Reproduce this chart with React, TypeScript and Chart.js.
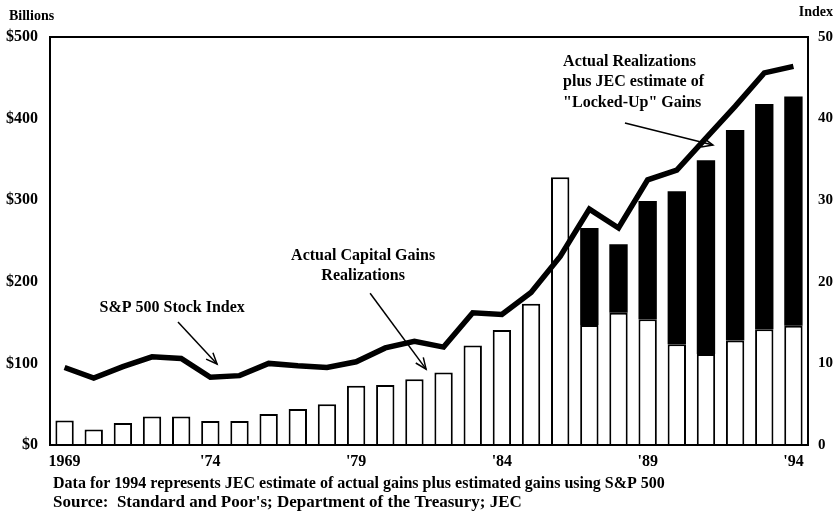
import React, { useEffect, useRef } from "react";
import { Chart, registerables } from "chart.js";

Chart.register(...registerables);

// ---- Data ----
const years = [
  "1969", "1970", "1971", "1972", "1973", "1974", "1975", "1976", "1977",
  "1978", "1979", "1980", "1981", "1982", "1983", "1984", "1985", "1986",
  "1987", "1988", "1989", "1990", "1991", "1992", "1993", "1994",
];
const shownYears = ["1969", "1974", "1979", "1984", "1989", "1994"];
const shownYearText = ["1969", "'74", "'79", "'84", "'89", "'94"];

// Actual capital gains realizations, $ billions (white bars)
const realizations = [
  30, 19, 27, 35, 35, 29.5, 29.5, 38, 44, 50, 72.5, 73.5, 80.5, 89, 122, 141,
  173, 328, 147, 162, 154, 123.5, 111.5, 128, 142, 146,
];
// JEC estimate of "locked-up" gains, $ billions (black bar tops)
const lockedUp = [
  null, null, null, null, null, null, null, null, null, null, null, null, null,
  null, null, null, null, null, 119, 84, 145, 187.5, 237.5, 258, 276, 281,
];
// S&P 500 stock index (right axis, index / 10)
const sp500 = [
  9.5, 8.2, 9.6, 10.8, 10.6, 8.3, 8.5, 10.0, 9.7, 9.5, 10.2, 11.9, 12.7, 12.0,
  16.2, 16.0, 18.7, 23.1, 28.9, 26.6, 32.5, 33.7, 37.6, 41.5, 45.6, 46.4,
];

const leftTicks = [0, 100, 200, 300, 400, 500];
const rightTicks = [0, 10, 20, 30, 40, 50];

const FONT = "'Liberation Serif', 'Times New Roman', serif";

// annotation texts anchored to data coordinates (category index, $ value)
const notes = [
  { lines: ["S&P 500 Stock Index"], x: 3.69, y: 168, align: "center" },
  { lines: ["Actual Capital Gains", "Realizations"], x: 10.24, y: 232, align: "center" },
  {
    lines: ["Actual Realizations", "plus JEC estimate of", '"Locked-Up" Gains'],
    x: 17.1, y: 470, align: "left",
  },
];
const arrows = [
  { x1: 3.89, y1: 150.7, x2: 5.23, y2: 99.3 },
  { x1: 10.48, y1: 186, x2: 12.4, y2: 93 },
  { x1: 19.22, y1: 394.6, x2: 22.24, y2: 367.6 },
];
const footnotes = [
  { text: "Data for 1994 represents JEC estimate of actual gains plus estimated gains using S&P 500", size: 16 },
  { text: "Source:  Standard and Poor's; Department of the Treasury; JEC", size: 17 },
];

const overlay = {
  id: "overlay",
  afterDraw(chart: any) {
    const { ctx, chartArea, scales } = chart;
    const xs = scales.x;
    const ys = scales.y;
    ctx.save();
    // frame
    ctx.strokeStyle = "#000";
    ctx.lineWidth = 2;
    ctx.strokeRect(chartArea.left, chartArea.top, chartArea.right - chartArea.left, chartArea.bottom - chartArea.top);

    ctx.fillStyle = "#000";
    ctx.textBaseline = "middle";
    // axis titles
    ctx.font = `bold 14px ${FONT}`;
    ctx.textAlign = "left";
    ctx.fillText("Billions", 9, 16);
    ctx.textAlign = "right";
    ctx.fillText("Index", 833, 12);

    // annotations
    ctx.font = `bold 16px ${FONT}`;
    const lineStep = 20.5;
    notes.forEach((n) => {
      const px = xs.getPixelForValue(n.x);
      const py = ys.getPixelForValue(n.y);
      ctx.textAlign = n.align as CanvasTextAlign;
      n.lines.forEach((t, i) => ctx.fillText(t, px, py + i * lineStep));
    });

    // arrows
    ctx.lineWidth = 1.5;
    arrows.forEach((a) => {
      const x1 = xs.getPixelForValue(a.x1);
      const y1 = ys.getPixelForValue(a.y1);
      const x2 = xs.getPixelForValue(a.x2);
      const y2 = ys.getPixelForValue(a.y2);
      ctx.beginPath();
      ctx.moveTo(x1, y1);
      ctx.lineTo(x2, y2);
      ctx.stroke();
      const ang = Math.atan2(y2 - y1, x2 - x1);
      const L = 12;
      const spread = 0.4;
      ctx.beginPath();
      ctx.moveTo(x2 - L * Math.cos(ang - spread), y2 - L * Math.sin(ang - spread));
      ctx.lineTo(x2, y2);
      ctx.lineTo(x2 - L * Math.cos(ang + spread), y2 - L * Math.sin(ang + spread));
      ctx.stroke();
    });

    // footnotes
    ctx.textAlign = "left";
    footnotes.forEach((f, i) => {
      ctx.font = `bold ${f.size}px ${FONT}`;
      ctx.fillText(f.text, 53, 484 + i * 19);
    });
    ctx.restore();
  },
};

export default function App() {
  const ref = useRef<HTMLCanvasElement | null>(null);
  useEffect(() => {
    document.body.style.margin = "0";
    if (!ref.current) return;
    const chart = new Chart(ref.current, {
      type: "bar",
      data: {
        labels: years,
        datasets: [
          {
            type: "line",
            label: "S&P 500 Stock Index",
            data: sp500,
            yAxisID: "y1",
            borderColor: "#000",
            borderWidth: 5.5,
            pointRadius: 0,
            tension: 0,
            fill: false,
            order: 0,
          } as any,
          {
            label: "Actual Capital Gains Realizations",
            data: realizations,
            yAxisID: "y",
            backgroundColor: "#fff",
            borderColor: "#000",
            borderWidth: 2,
            order: 1,
          },
          {
            label: 'JEC estimate of "Locked-Up" Gains',
            data: lockedUp,
            yAxisID: "y",
            backgroundColor: "#000",
            borderColor: "#000",
            borderWidth: 0,
            order: 1,
          },
        ],
      },
      options: {
        responsive: false,
        animation: false,
        events: [],
        layout: { padding: { top: 37, left: 0, right: 0, bottom: 0 } },
        datasets: { bar: { categoryPercentage: 1, barPercentage: 0.63 } } as any,
        plugins: { legend: { display: false }, tooltip: { enabled: false } },
        scales: {
          x: {
            stacked: true,
            grid: { display: false, drawTicks: false },
            border: { display: false },
            ticks: {
              autoSkip: false,
              maxRotation: 0,
              padding: 7,
              color: "#000",
              font: { family: FONT, size: 16, weight: "bold" },
              callback: (_v: any, i: number) => {
                const k = shownYears.indexOf(years[i]);
                return k >= 0 ? shownYearText[k] : "";
              },
            },
            afterFit: (s: any) => { s.height = 70; },
          },
          y: {
            position: "left",
            stacked: true,
            min: 0,
            max: 500,
            grid: { display: false, drawTicks: false },
            border: { display: false },
            afterBuildTicks: (s: any) => { s.ticks = leftTicks.map((v) => ({ value: v })); },
            ticks: {
              padding: 12,
              color: "#000",
              font: { family: FONT, size: 16, weight: "bold" },
              callback: (v: any) => "$" + v,
            },
            afterFit: (s: any) => { s.width = 50; },
          },
          y1: {
            position: "right",
            stacked: false,
            min: 0,
            max: 50,
            grid: { display: false, drawTicks: false },
            border: { display: false },
            afterBuildTicks: (s: any) => { s.ticks = rightTicks.map((v) => ({ value: v })); },
            ticks: {
              padding: 10,
              color: "#000",
              font: { family: FONT, size: 15, weight: "bold" },
            },
            afterFit: (s: any) => { s.width = 32; },
          },
        },
      },
      plugins: [overlay],
    });
    return () => chart.destroy();
  }, []);
  return (
    <div style={{ width: 840, height: 515, background: "#fff" }}>
      <canvas ref={ref} width={840} height={515} style={{ display: "block" }} />
    </div>
  );
}
